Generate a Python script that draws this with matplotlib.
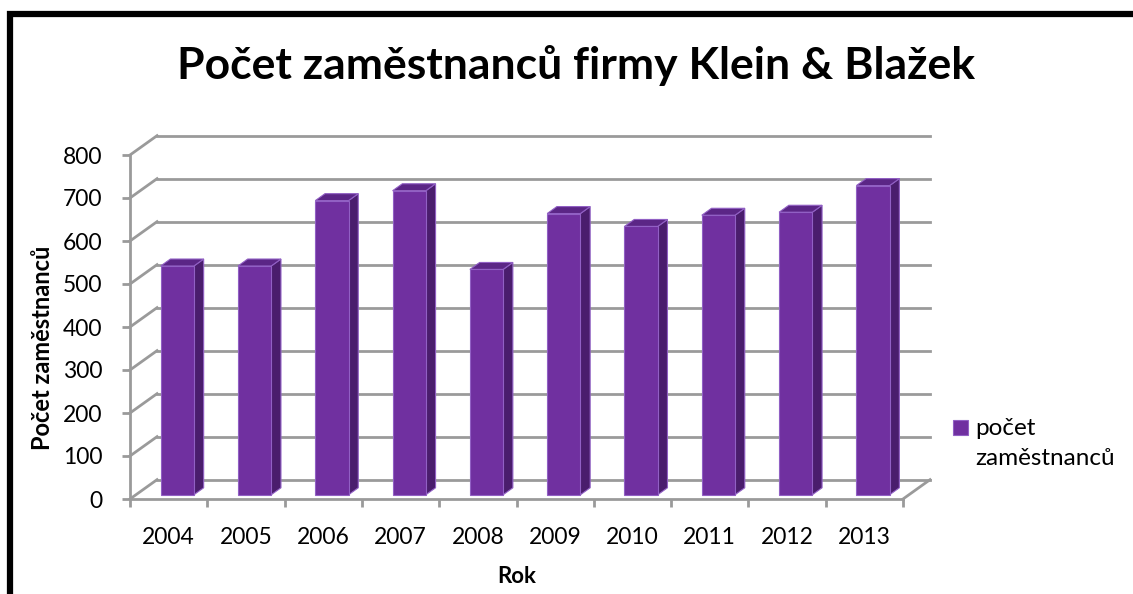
import matplotlib
matplotlib.use("Agg")
import matplotlib.pyplot as plt
from matplotlib.patches import Polygon, Rectangle
from matplotlib.lines import Line2D

plt.rcParams['font.family'] = ['Lato', 'DejaVu Sans']

# ---- data ----
years = ["2004", "2005", "2006", "2007", "2008", "2009", "2010", "2011", "2012", "2013"]
employees = [532, 532, 684, 707, 524, 654, 624, 650, 657, 719]
y_ticks = [0, 100, 200, 300, 400, 500, 600, 700, 800]
title = "Počet zaměstnanců firmy Klein & Blažek"
y_label = "Počet zaměstnanců"
x_label = "Rok"
legend_lines = ["počet", "zaměstnanců"]

# ---- style / 3D geometry ----
W, H = 1133, 594
DX = 0.35      # depth offset in category units
DY = 45.0      # depth offset in value units
D0, D1 = 0.22, 0.58   # bar depth (front, back)
BL, BR = 0.32, 0.75   # bar left/right inside category (front plane)
FRONT = "#7030A0"
SIDE = "#4A1D6D"
TOP = "#5B2686"
EDGE = "#9160C4"
GRID = "#9A9A9A"

fig = plt.figure(figsize=(W / 100, H / 100), dpi=100)
fig.patch.set_facecolor("white")

# frame (clipped at right and bottom like the reference)
fig.patches.append(Rectangle((10 / W, -0.1), 1.2, (594 - 14) / H + 0.1,
                             transform=fig.transFigure, fill=False,
                             edgecolor="black", linewidth=4.5))

ax = fig.add_axes([130 / W, (H - 499) / H, (903 - 130) / W, (499 - 155) / H])
ax.set_xlim(0, len(years))
ax.set_ylim(0, 800)
ax.set_facecolor("none")
for s in ["top", "right"]:
    ax.spines[s].set_visible(False)
for s in ["left", "bottom"]:
    ax.spines[s].set_color(GRID)
    ax.spines[s].set_linewidth(2)

n = len(years)
# back wall gridlines and left wall diagonals
for v in y_ticks:
    ax.add_line(Line2D([DX, n + DX], [v + DY, v + DY], color=GRID, lw=2,
                       clip_on=False, zorder=1))
    ax.add_line(Line2D([0, DX], [v, v + DY], color=GRID, lw=2,
                       clip_on=False, zorder=1))
# floor right edge
ax.add_line(Line2D([n, n + DX], [0, DY], color=GRID, lw=2, clip_on=False, zorder=1))

# bars
for i, val in enumerate(employees):
    xl = i + BL + D0 * DX
    xr = i + BR + D0 * DX
    yb = D0 * DY
    yt = val + D0 * DY
    ddx = (D1 - D0) * DX
    ddy = (D1 - D0) * DY
    front = Polygon([(xl, yb), (xr, yb), (xr, yt), (xl, yt)], closed=True,
                    facecolor=FRONT, edgecolor=EDGE, lw=0.8, clip_on=False, zorder=3)
    side = Polygon([(xr, yb), (xr + ddx, yb + ddy), (xr + ddx, yt + ddy), (xr, yt)],
                   closed=True, facecolor=SIDE, edgecolor=EDGE, lw=0.8,
                   clip_on=False, zorder=3)
    top = Polygon([(xl, yt), (xr, yt), (xr + ddx, yt + ddy), (xl + ddx, yt + ddy)],
                  closed=True, facecolor=TOP, edgecolor=EDGE, lw=0.8,
                  clip_on=False, zorder=3)
    for p in (side, top, front):
        ax.add_patch(p)

# ticks
ax.set_yticks(y_ticks)
ax.set_yticklabels([str(v) for v in y_ticks])
ax.set_xticks(range(n + 1))
ax.set_xticklabels([""] * (n + 1))
ax.set_xticks([i + 0.5 for i in range(n)], minor=True)
ax.set_xticklabels(years, minor=True)
ax.tick_params(axis="y", direction="out", length=6, width=2, color=GRID,
               labelsize=16.5, pad=14, labelcolor="black")
ax.tick_params(axis="x", which="major", direction="out", length=6, width=2,
               color=GRID)
ax.tick_params(axis="x", which="minor", length=0, labelsize=16.5, pad=20,
               labelcolor="black")

# texts
fig.text(576 / W, 1 - 66 / H, title, ha="center", va="center",
         fontsize=32, fontweight="bold")
fig.text(43 / W, 1 - 348 / H, y_label, ha="center", va="center",
         rotation=90, fontsize=17, fontweight="bold")
fig.text(517 / W, 1 - 583 / H, x_label, ha="center", va="baseline",
         fontsize=16, fontweight="bold")

# legend
fig.patches.append(Rectangle((953 / W, 1 - 435 / H), 15 / W, 15 / H,
                             transform=fig.transFigure, facecolor=FRONT,
                             edgecolor=EDGE, lw=0.8))
fig.text(975 / W, 1 - 435 / H, legend_lines[0], ha="left", va="baseline",
         fontsize=17.5)
fig.text(975 / W, 1 - 465 / H, legend_lines[1], ha="left", va="baseline",
         fontsize=17.5)

fig.savefig("out.png", dpi=100)
